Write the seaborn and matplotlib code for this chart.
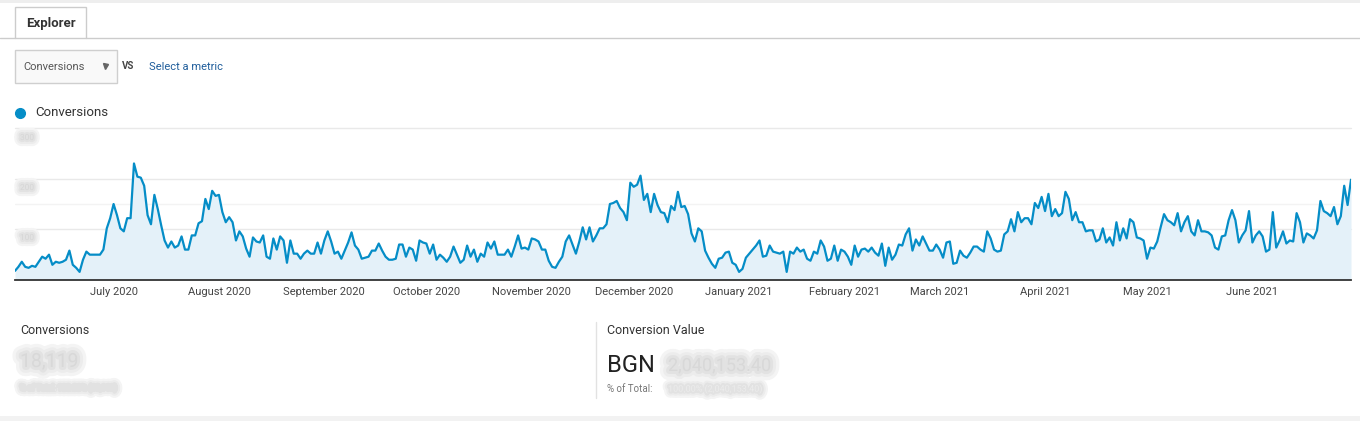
#!/usr/bin/env python3
"""
Google Analytics style "Explorer" chart of daily conversions, June 2020 - June 2021.
"""

import pandas as pd
import matplotlib
matplotlib.use('Agg')
import matplotlib.pyplot as plt
import matplotlib.patheffects as pe
from matplotlib.patches import Rectangle
from matplotlib.lines import Line2D
import seaborn as sns

# Data (one value per day)
start_date = '2020-06-02'
conversions_jun_aug_2020 = [
    9, 13, 18, 13, 12, 14, 13, 18, 23, 21, 25, 15, 18, 17, 18, 20, 29, 15, 12, 8,
    20, 28, 25, 25, 25, 25, 30, 51, 61, 75, 64, 51, 48, 61, 61, 115, 102, 101, 93, 64,
    55, 84, 70, 54, 39, 32, 38, 32, 34, 43, 30, 30, 44, 44, 56, 58, 80, 70, 88, 83,
    84, 67, 57, 62, 57, 39, 48, 43, 31, 23, 42, 38, 37, 44, 23, 21, 41, 30, 43, 39,
    17, 39, 26, 26, 21, 26, 29, 26, 26, 37,
]
conversions_sep_nov_2020 = [
    26, 39, 48, 38, 26, 28, 21, 29, 37, 47, 34, 30, 21, 22, 23, 29, 29, 36, 29, 23,
    20, 20, 21, 35, 35, 23, 32, 30, 19, 39, 37, 36, 26, 35, 20, 25, 22, 18, 23, 33,
    25, 17, 20, 34, 23, 30, 18, 26, 23, 37, 31, 38, 25, 25, 25, 30, 23, 33, 44, 31,
    32, 30, 41, 40, 38, 30, 30, 19, 13, 12, 18, 23, 38, 44, 35, 26, 38, 52, 40, 52,
    38, 44, 51, 51, 55, 75, 76, 78, 71, 67,
]
conversions_dec_2020_feb_2021 = [
    59, 96, 92, 94, 103, 79, 85, 67, 85, 74, 67, 66, 57, 73, 69, 87, 72, 73, 65, 46,
    38, 51, 48, 29, 22, 16, 12, 21, 22, 27, 28, 17, 15, 8, 11, 22, 26, 30, 34, 39,
    23, 24, 34, 28, 27, 26, 28, 8, 28, 26, 32, 28, 30, 21, 19, 28, 26, 39, 33, 19,
    21, 34, 19, 30, 28, 23, 15, 34, 23, 30, 31, 28, 32, 27, 24, 36, 14, 32, 20, 25,
    35, 34, 45, 51, 29, 40, 34, 43, 36, 29,
]
conversions_mar_jun_2021 = [
    29, 35, 30, 22, 37, 38, 16, 17, 29, 24, 22, 27, 33, 33, 30, 28, 48, 41, 30, 28,
    29, 45, 48, 60, 48, 67, 57, 61, 61, 55, 76, 71, 82, 68, 85, 63, 70, 63, 66, 87,
    80, 59, 67, 57, 57, 48, 49, 49, 38, 40, 51, 37, 42, 34, 57, 39, 51, 41, 60, 57,
    42, 41, 39, 21, 32, 31, 38, 52, 65, 59, 57, 54, 66, 48, 57, 63, 48, 44, 59, 48,
    48, 47, 44, 32, 30, 43, 44, 59, 69, 59, 37, 44, 49, 68, 37, 44, 48, 43, 28, 30,
    67, 32, 39, 48, 36, 39, 38, 66, 57, 37, 46, 44, 41, 49, 78, 68, 66, 63, 72, 55,
    63, 93, 74, 99,
]
grid_values = [50, 100, 150]
half_grid_value = 75
axis_labels_blurred = ['300', '200', '100']

W, H = 1360, 421
LINE_BLUE = '#058dc7'
FILL_BLUE = '#e4f1f9'
TEXT_DARK = '#333333'


def blur(width):
    """Soft halo so masked numbers look smudged like in the screenshot"""
    return [pe.Stroke(linewidth=width * 2.2, foreground='#f4f4f4'),
            pe.Stroke(linewidth=width * 1.4, foreground='#ececec'),
            pe.Stroke(linewidth=width * 0.7, foreground='#e2e2e2'),
            pe.Normal()]


def fx(x):
    return x / W


def fy(y):
    return 1 - y / H


def draw_header(fig):
    """Tab, metric selector and legend"""
    fig.add_artist(Rectangle((0, fy(3)), 1, 3 / H, transform=fig.transFigure,
                             color='#eeeeee', lw=0))
    # tab
    fig.add_artist(Rectangle((fx(15), fy(38)), 71 / W, 31 / H, transform=fig.transFigure,
                             facecolor='white', edgecolor='#cccccc', lw=1))
    fig.add_artist(Line2D([0, fx(15)], [fy(38), fy(38)], transform=fig.transFigure,
                          color='#cccccc', lw=1))
    fig.add_artist(Line2D([fx(86), 1], [fy(38), fy(38)], transform=fig.transFigure,
                          color='#cccccc', lw=1))
    fig.text(fx(51), fy(23), 'Explorer', ha='center', va='center', fontsize=9.5,
             fontweight='bold', color=TEXT_DARK)

    # dropdown
    fig.add_artist(Rectangle((fx(15), fy(83)), 102 / W, 33 / H, transform=fig.transFigure,
                             facecolor='#f9f9f9', edgecolor='#cfcfcf', lw=1))
    fig.text(fx(23), fy(67), 'Conversions', ha='left', va='center', fontsize=8, color='#555555')
    fig.add_artist(Line2D([fx(105)], [fy(66)], transform=fig.transFigure, marker='v',
                          markersize=3.6, color='#666666', lw=0))
    fig.text(fx(122), fy(66), 'VS', ha='left', va='center', fontsize=7,
             fontweight='bold', color='#444444')
    fig.text(fx(149), fy(67), 'Select a metric', ha='left', va='center', fontsize=8,
             color='#1f5d9b')

    # legend
    fig.add_artist(Line2D([fx(20)], [fy(113)], transform=fig.transFigure, marker='o',
                          markersize=7, color=LINE_BLUE, lw=0))
    fig.text(fx(35), fy(113), 'Conversions', ha='left', va='center', fontsize=9.5,
             color=TEXT_DARK)


def draw_chart(fig, df):
    """Daily conversions area chart"""
    ax = fig.add_axes([fx(15), fy(280), (1351 - 15) / W, (280 - 128) / H])
    ax.fill_between(df['date'], df['conversions'], 0, color=FILL_BLUE, lw=0, zorder=1)
    sns.lineplot(data=df, x='date', y='conversions', ax=ax, color=LINE_BLUE,
                 linewidth=1.6, zorder=3)

    for v in grid_values:
        ax.axhline(v, color='#e9e9e9', lw=1, zorder=0, clip_on=False)
    ax.axhline(half_grid_value, color='#f3f3f3', lw=1, zorder=0)

    ax.set_xlim(df['date'].iloc[0], df['date'].iloc[-1])
    ax.set_ylim(0, grid_values[-1])
    ax.set_yticks([])
    months = pd.date_range('2020-07-01', '2021-06-01', freq='MS')
    ax.set_xticks(months)
    ax.set_xticklabels([m.strftime('%B %Y') for m in months], fontsize=8, color='#444444')
    ax.tick_params(axis='x', length=0, pad=5)
    ax.set_xlabel('')
    ax.set_ylabel('')
    for side in ['top', 'left', 'right']:
        ax.spines[side].set_visible(False)
    ax.spines['bottom'].set_color('#333333')
    ax.spines['bottom'].set_linewidth(1.3)
    ax.set_facecolor('none')

    # blurred axis labels
    for y, label in zip([138, 188, 238], axis_labels_blurred):
        fig.text(fx(20), fy(y), label, ha='left', va='center', fontsize=6,
                 color='#d6d6d6', path_effects=blur(4))
    return ax


def draw_scorecards(fig):
    """Totals below the chart"""
    fig.add_artist(Rectangle((0, 0), 1, 5 / H, transform=fig.transFigure,
                             color='#f2f2f2', lw=0))
    fig.text(fx(20), fy(330), 'Conversions', ha='left', va='center', fontsize=9,
             color=TEXT_DARK)
    fig.text(fx(20), fy(362), '18,119', ha='left', va='center', fontsize=14,
             color='#d8d8d8', path_effects=blur(6))
    fig.text(fx(20), fy(388), '% of Total: 100.00% (18,119)', ha='left', va='center',
             fontsize=5.5, color='#e2e2e2', path_effects=blur(4))

    fig.add_artist(Line2D([fx(596), fx(596)], [fy(322), fy(398)], transform=fig.transFigure,
                          color='#e2e2e2', lw=1))
    fig.text(fx(607), fy(330), 'Conversion Value', ha='left', va='center', fontsize=9,
             color=TEXT_DARK)
    fig.text(fx(607), fy(366), 'BGN', ha='left', va='center', fontsize=17,
             color='#222222')
    fig.text(fx(668), fy(366), '2,040,153.40', ha='left', va='center', fontsize=13,
             color='#d8d8d8', path_effects=blur(6))
    fig.text(fx(607), fy(389), '% of Total:', ha='left', va='center', fontsize=7,
             color='#777777')
    fig.text(fx(668), fy(389), '100.00% (2,040,153.40)', ha='left', va='center',
             fontsize=6.5, color='#ececec', path_effects=blur(4))


def main():
    sns.set_theme(style='white')
    plt.rcParams['font.family'] = ['Roboto', 'DejaVu Sans']

    values = (conversions_jun_aug_2020 + conversions_sep_nov_2020
              + conversions_dec_2020_feb_2021 + conversions_mar_jun_2021)
    df = pd.DataFrame({
        'date': pd.date_range(start_date, periods=len(values), freq='D'),
        'conversions': values,
    })

    fig = plt.figure(figsize=(W / 100, H / 100), dpi=100)
    fig.patch.set_facecolor('white')
    draw_header(fig)
    draw_chart(fig, df)
    draw_scorecards(fig)
    fig.savefig('out.png', dpi=100)
    plt.close(fig)


if __name__ == '__main__':
    main()
